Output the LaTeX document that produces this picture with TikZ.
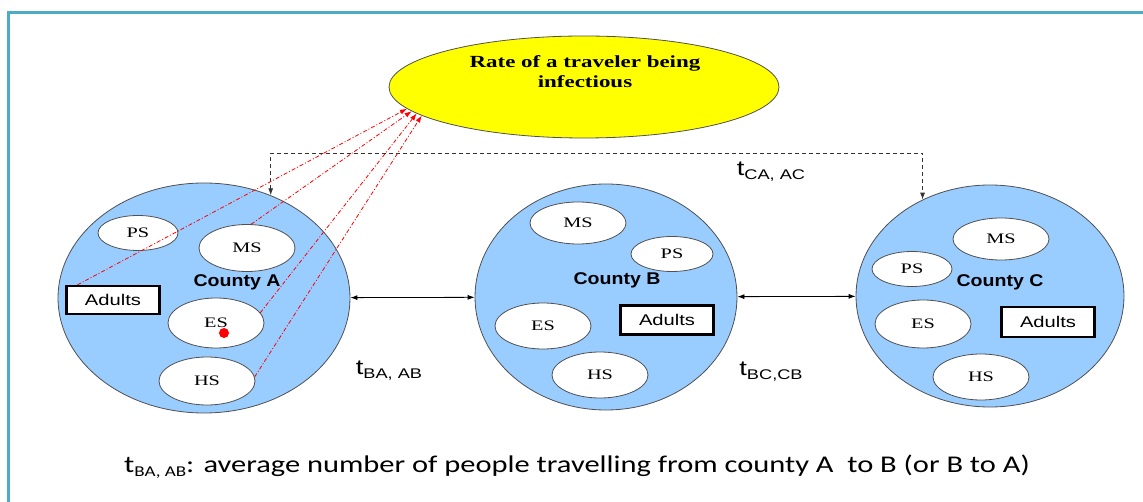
\documentclass[tikz,border=0pt]{standalone}
\usepackage{fontspec}
\setmainfont{Liberation Sans}
\newfontfamily\labsans[FakeStretch=1.3]{Liberation Sans}
\newfontfamily\cntysans[FakeStretch=1.15]{Liberation Sans}
\newfontfamily\schserif[FakeStretch=1.4]{Liberation Serif}
\newfontfamily\rateserif[FakeStretch=1.35]{Liberation Serif}
\newfontfamily\capfont[FakeStretch=1.27]{Carlito}
\usetikzlibrary{shapes.geometric,arrows.meta}
\definecolor{cntyblue}{RGB}{153,204,255}
\definecolor{framecol}{RGB}{75,172,198}
\definecolor{olg}{RGB}{80,80,80}
\definecolor{rateyellow}{RGB}{255,255,0}
\begin{document}
\begin{tikzpicture}[x=1pt,y=-1pt,
  cnty/.style={ellipse, draw=olg, fill=cntyblue, line width=0.8pt, inner sep=0pt},
  sch/.style={ellipse, draw=olg, fill=white, line width=0.8pt, inner sep=0pt,
    font=\schserif\fontsize{14.5}{14.5}\selectfont},
  adl/.style={rectangle, draw=black, fill=white, line width=2.2pt, minimum width=93pt,
    minimum height=28pt, inner sep=0pt, font=\labsans\fontsize{15.5}{15.5}\selectfont},
  clab/.style={font=\cntysans\bfseries\fontsize{17}{17}\selectfont, inner sep=0pt},
  travel/.style={{Latex[length=7pt,width=5pt]}-{Latex[length=7pt,width=5pt]}, line width=0.8pt, black},
  dashline/.style={{Latex[length=7pt,width=5pt]}-{Latex[length=7pt,width=5pt]}, line width=0.9pt,
    black!80, dash pattern=on 4pt off 3pt},
  infect/.style={red, line width=0.8pt, dash pattern=on 4pt off 2pt on 1pt off 2pt,
    -{Latex[length=7pt,width=5pt]}},
  tlab/.style={font=\labsans\fontsize{21}{21}\selectfont, inner sep=0pt}
]
\useasboundingbox (0,0) rectangle (1143,502);
\draw[framecol, line width=3pt] (8,502) -- (8,13) -- (1143,13);

% rate ellipse
\node[ellipse, draw=olg, fill=rateyellow, line width=0.8pt, minimum width=390pt, minimum height=102pt, inner sep=0pt] (rate) at (584,87) {};
\node[font=\rateserif\bfseries\fontsize{17}{20}\selectfont, align=center, inner sep=0pt] (ratetxt) at (585,72) {Rate of a traveler being\\infectious};

% counties
\node[cnty, minimum width=292pt, minimum height=230pt] (A) at (204,298) {};
\node[cnty, minimum width=262pt, minimum height=226pt] (B) at (606,297) {};
\node[cnty, minimum width=268pt, minimum height=222pt] (C) at (990,296) {};

% county A
\node[sch, minimum width=80pt, minimum height=35pt] (aPS) at (138,233) {PS};
\node[sch, minimum width=96pt, minimum height=47pt] (aMS) at (247,248) {MS};
\node[clab] (aLab) at (237,282) {County A};
\node[adl] (aAd) at (113,300) {Adults};
\node[sch, minimum width=96pt, minimum height=50pt] (aES) at (216,323) {ES};
\node[circle, fill=red, inner sep=0pt, minimum size=10pt] (dot) at (224,333) {};
\node[sch, minimum width=96pt, minimum height=48pt] (aHS) at (207,381) {HS};

% county B
\node[sch, minimum width=96pt, minimum height=42pt] (bMS) at (578,223) {MS};
\node[sch, minimum width=82pt, minimum height=35pt] (bPS) at (672,254) {PS};
\node[clab] (bLab) at (617,280) {County B};
\node[sch, minimum width=96pt, minimum height=46pt] (bES) at (543,326) {ES};
\node[adl, minimum height=29pt] (bAd) at (667,320) {Adults};
\node[sch, minimum width=96pt, minimum height=46pt] (bHS) at (600,375) {HS};

% county C
\node[sch, minimum width=96pt, minimum height=42pt] (cMS) at (1001,239) {MS};
\node[sch, minimum width=80pt, minimum height=35pt] (cPS) at (912,269) {PS};
\node[clab] (cLab) at (1000,282) {County C};
\node[sch, minimum width=96pt, minimum height=48pt] (cES) at (923,324) {ES};
\node[adl, minimum height=30pt] (cAd) at (1048,322) {Adults};
\node[sch, minimum width=96pt, minimum height=46pt] (cHS) at (981,377) {HS};

% travel connectors
\draw[travel] (A) -- (B);
\draw[travel] (B) -- (C);
\coordinate (dtop) at (600,153);
\draw[dashline] (A.57) |- (dtop) -| (C.125);

% infection links
\draw[infect] (aAd.157) -- (rate.187);
\draw[infect] (aMS.80) -- (rate.188);
\draw[infect] (aES.13) -- (rate.189);
\draw[infect] (aHS.5) -- (rate.190);

% labels
\node[tlab] (tBA) at (389,371) {t\raisebox{-4pt}{\fontsize{14}{14}\selectfont BA, AB}};
\node[tlab] (tCA) at (771,172) {t\raisebox{-4pt}{\fontsize{14}{14}\selectfont CA, AC}};
\node[tlab] (tBC) at (771,372) {t\raisebox{-4pt}{\fontsize{14}{14}\selectfont BC,CB}};

\node[font=\capfont\fontsize{24}{26}\selectfont, inner sep=0pt] (cap) at (577,467)
  {t\raisebox{-4pt}{\fontsize{15}{15}\selectfont BA, AB}: average number of people travelling from county A\ \ to B (or B to A)};
\end{tikzpicture}
\end{document}
